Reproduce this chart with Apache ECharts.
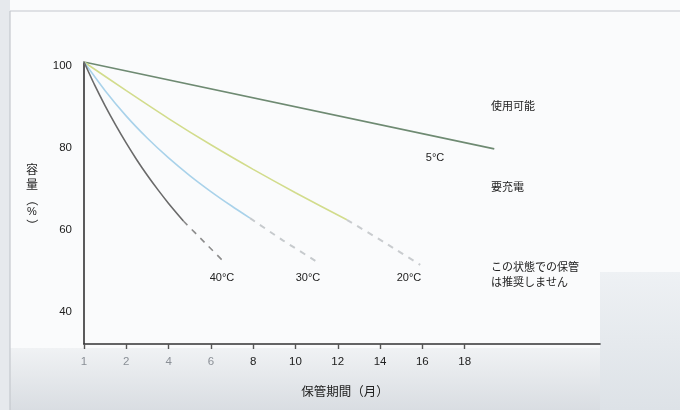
<!DOCTYPE html>
<html><head><meta charset="utf-8">
<script src="https://cdn.jsdelivr.net/npm/echarts@6/dist/echarts.min.js"></script>
<style>html,body{margin:0;padding:0;background:#fafbfc}#c{width:680px;height:410px}</style>
</head><body><div id="c"></div>
<script>
// Data (x = storage months on the drawn scale, y = capacity %)
const xTicks = [0, 2, 4, 6, 8, 10, 12, 14, 16, 18];
const xTickLabels = ['1', '2', '4', '6', '8', '10', '12', '14', '16', '18'];
const yTicks = [40, 60, 80, 100];

const t5 = [[0, 100], [19.4, 78.8]];
const t20Solid = [[0, 100], [2, 93.0], [4, 86.2], [6, 79.8], [8, 73.8], [10, 68.1], [12.43, 61.5]];
const t20Dash = [[12.43, 61.5], [14.2, 56], [15.9, 50.5]];
const t30Solid = [[0, 100], [1, 93.0], [2, 86.8], [3, 81.4], [4, 76.6], [5, 72.3], [6, 68.4], [7, 64.8], [7.85, 61.9]];
const t30Dash = [[7.85, 61.9], [9.4, 56.5], [11.0, 51.3]];
const t40Solid = [[0, 100], [0.5, 94.4], [1, 89.3], [1.5, 84.6], [2, 80.2], [2.5, 76.1], [3, 72.3], [3.5, 68.8], [4, 65.5], [4.7, 61.2]];
const t40Dash = [[4.7, 61.2], [5.7, 56.0], [6.7, 50.8]];

const seriesLabels = ['5°C', '20°C', '30°C', '40°C'];
const zoneLabels = ['使用可能', '要充電', 'この状態での保管\nは推奨しません'];

const latin = '"Liberation Sans", Arial, sans-serif';
const cjk = '"Noto Sans CJK JP", "Noto Sans", sans-serif';

function line(data, color, dashed, width) {
  return {
    type: 'line', data: data, smooth: 0.2, symbol: 'none', silent: true,
    lineStyle: { color: color, width: width || 1.6, type: dashed ? [6, 6] : 'solid' },
    z: 3
  };
}

const chart = echarts.init(document.getElementById('c'));
chart.setOption({
  backgroundColor: '#fafbfc',
  animation: false,
  grid: { left: 84, right: 80, top: 62, bottom: 66, show: false },
  xAxis: {
    type: 'value', min: 0, max: 24.4,
    axisLine: { show: true, onZero: false, lineStyle: { color: '#333', width: 1.6 } },
    axisTick: { show: true, customValues: xTicks, length: 5, lineStyle: { color: '#555', width: 1.4 } },
    axisLabel: {
      customValues: xTicks, margin: 12, fontSize: 11.5, fontFamily: latin,
      formatter: v => xTickLabels[xTicks.indexOf(v)],
      color: (v) => (v <= 6 ? '#8a8f96' : '#222')
    },
    splitLine: { show: false },
    name: '保管期間（月）', nameLocation: 'middle', nameGap: 41,
    nameTextStyle: { fontSize: 12.5, color: '#222', fontFamily: cjk, padding: [0, 0, 0, 6] }
  },
  yAxis: {
    type: 'value', min: 31.2, max: 100,
    axisLine: { show: true, lineStyle: { color: '#333', width: 1.6 } },
    axisTick: { show: false },
    axisLabel: { customValues: yTicks, margin: 12, fontSize: 11.5, fontFamily: latin, color: '#222', verticalAlign: 'top', padding: [-2, 0, 0, 0] },
    splitLine: { show: false }
  },
  series: [
    line(t5, '#6e8a72', false, 1.6),
    line(t20Solid, '#d2dc8c', false, 1.6),
    line(t20Dash, '#c9cccf', true, 2),
    line(t30Solid, '#a9d2ea', false, 1.6),
    line(t30Dash, '#c6cacd', true, 2),
    line(t40Solid, '#6a6a6a', false, 1.6),
    line(t40Dash, '#8c8c8c', true, 1.6)
  ],
  graphic: [
    { type: 'rect', shape: { x: 0, y: 348, width: 680, height: 62 }, z: -10,
      style: { fill: new echarts.graphic.LinearGradient(0, 0, 0, 1, [{ offset: 0, color: '#f0f2f4' }, { offset: 1, color: '#d9dde2' }]) } },
    { type: 'rect', shape: { x: 600, y: 272, width: 80, height: 138 }, z: -10,
      style: { fill: new echarts.graphic.LinearGradient(0, 0, 0, 1, [{ offset: 0, color: '#eef1f4' }, { offset: 1, color: '#dde2e7' }]) } },
    { type: 'rect', shape: { x: 0, y: 0, width: 10, height: 410 }, z: -9, style: { fill: '#e6e9ed' } },
    { type: 'line', shape: { x1: 10, y1: 11, x2: 680, y2: 11 }, style: { stroke: '#c4c8cd', lineWidth: 1.2 } },
    { type: 'line', shape: { x1: 10, y1: 11, x2: 10, y2: 410 }, style: { stroke: '#c4c8cd', lineWidth: 1.2 } },
    { type: 'text', x: 32, y: 169, style: { text: '容', font: '12px ' + cjk, fill: '#222', align: 'center', verticalAlign: 'middle' } },
    { type: 'text', x: 32, y: 184, style: { text: '量', font: '12px ' + cjk, fill: '#222', align: 'center', verticalAlign: 'middle' } },
    { type: 'group', x: 32, y: 200, rotation: -Math.PI / 2, children: [
      { type: 'text', style: { text: '（', font: '12px ' + cjk, fill: '#222', align: 'center', verticalAlign: 'middle' } }] },
    { type: 'text', x: 32, y: 212, style: { text: '%', font: '11px ' + latin, fill: '#222', align: 'center', verticalAlign: 'middle' } },
    { type: 'group', x: 32, y: 225, rotation: -Math.PI / 2, children: [
      { type: 'text', style: { text: '）', font: '12px ' + cjk, fill: '#222', align: 'center', verticalAlign: 'middle' } }] },
    { type: 'text', x: 435, y: 158, style: { text: seriesLabels[0], font: '11px ' + latin, fill: '#222', align: 'center', verticalAlign: 'middle' } },
    { type: 'text', x: 409, y: 278, style: { text: seriesLabels[1], font: '11px ' + latin, fill: '#222', align: 'center', verticalAlign: 'middle' } },
    { type: 'text', x: 308, y: 278, style: { text: seriesLabels[2], font: '11px ' + latin, fill: '#222', align: 'center', verticalAlign: 'middle' } },
    { type: 'text', x: 222, y: 278, style: { text: seriesLabels[3], font: '11px ' + latin, fill: '#222', align: 'center', verticalAlign: 'middle' } },
    { type: 'text', x: 491, y: 106, style: { text: zoneLabels[0], font: '11px ' + cjk, fill: '#222', verticalAlign: 'middle' } },
    { type: 'text', x: 491, y: 187, style: { text: zoneLabels[1], font: '11px ' + cjk, fill: '#222', verticalAlign: 'middle' } },
    { type: 'text', x: 491, y: 259, style: { text: zoneLabels[2], font: '11px ' + cjk, fill: '#222', lineHeight: 15 } }
  ]
});
</script></body></html>
